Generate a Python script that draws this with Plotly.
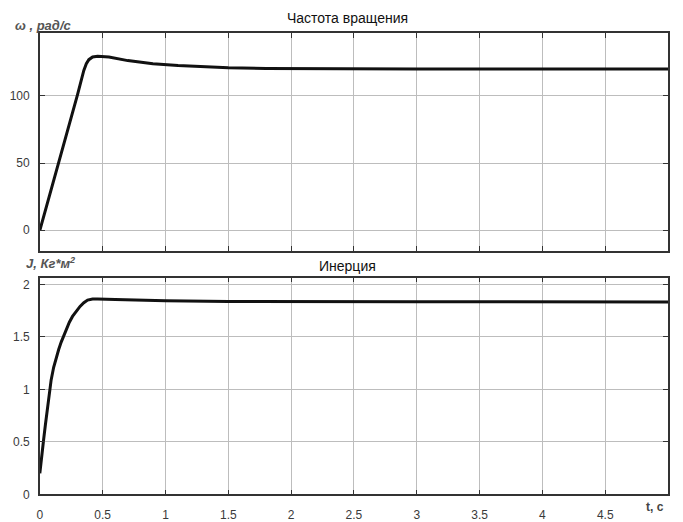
import plotly.graph_objects as go

W, H = 683, 522

# Angular velocity (rad/s) vs time
t_omega = [0, 0.15, 0.30, 0.35, 0.37, 0.39, 0.42, 0.46, 0.55, 0.70, 0.90, 1.10, 1.30, 1.50, 1.80, 2.20, 2.60, 3.00, 4.00, 5.00]
omega = [0, 50, 101, 119, 124, 127, 129, 129.6, 129.0, 126.3, 124.0, 122.6, 121.6, 121.0, 120.5, 120.2, 120.1, 120.0, 120.0, 120.0]

# Inertia (kg*m^2) vs time
t_J = [0, 0.01, 0.02, 0.03, 0.045, 0.06, 0.075, 0.09, 0.11, 0.13, 0.15, 0.17, 0.19, 0.21, 0.235, 0.26, 0.29,
       0.32, 0.35, 0.38, 0.42, 0.46, 0.60, 0.80, 1.00, 1.50, 2.00, 3.00, 5.00]
J = [0.2, 0.33, 0.43, 0.52, 0.67, 0.82, 0.99, 1.09, 1.21, 1.30, 1.38, 1.45, 1.51, 1.575, 1.64, 1.695, 1.745,
     1.79, 1.825, 1.85, 1.86, 1.861, 1.856, 1.849, 1.844, 1.838, 1.835, 1.834, 1.833]

x_ticks = [0, 0.5, 1, 1.5, 2, 2.5, 3, 3.5, 4, 4.5]
x_tick_text = ["0", "0.5", "1", "1.5", "2", "2.5", "3", "3.5", "4", "4.5"]
omega_ticks = [0, 50, 100]
J_ticks = [0, 0.5, 1, 1.5, 2]
J_tick_text = ["0", "0.5", "1", "1.5", "2"]

fig = go.Figure()
fig.add_trace(go.Scatter(x=t_omega, y=omega, mode="lines",
                         line=dict(color="#111111", width=3), xaxis="x", yaxis="y",
                         showlegend=False, hoverinfo="skip"))
fig.add_trace(go.Scatter(x=t_J, y=J, mode="lines",
                         line=dict(color="#111111", width=3), xaxis="x2", yaxis="y2",
                         showlegend=False, hoverinfo="skip"))

def px_x(p):
    return p / W

def px_y(p):
    return 1 - p / H

axis_common = dict(
    showline=True, linecolor="#333333", linewidth=1.5, mirror="allticks",
    ticks="inside", ticklen=5, tickcolor="#333333", tickwidth=1.2,
    showgrid=True, gridcolor="#bdbdbd", gridwidth=1,
    zeroline=False,
    tickfont=dict(family="Liberation Sans, Arial", size=12, color="#3a3a3a"),
)

fig.update_layout(
    width=W, height=H,
    margin=dict(l=0, r=0, t=0, b=0),
    paper_bgcolor="white", plot_bgcolor="white",
    xaxis=dict(domain=[px_x(37), px_x(668)], range=[0, 5], anchor="y",
               tickvals=x_ticks, showticklabels=False, **axis_common),
    yaxis=dict(domain=[px_y(255), px_y(34)], range=[-15.5, 146.5], anchor="x",
               tickvals=omega_ticks, ticklabelstandoff=6, **axis_common),
    xaxis2=dict(domain=[px_x(37), px_x(668)], range=[0, 5], anchor="y2",
                tickvals=x_ticks, ticktext=x_tick_text, ticklabelstandoff=9, **axis_common),
    yaxis2=dict(domain=[px_y(502), px_y(282)], range=[0, 2.064], anchor="x2",
                tickvals=J_ticks, ticktext=J_tick_text, ticklabelstandoff=6, **axis_common),
)

title_font = dict(family="Liberation Sans, Arial", size=14, color="#111111")
ylab_font = dict(family="Liberation Sans, Arial", size=13, color="#555555")

annotations = [
    dict(text="Частота вращения", x=px_x(346), y=px_y(18), xanchor="center", yanchor="middle",
         font=title_font),
    dict(text="Инерция", x=px_x(346), y=px_y(270), xanchor="center", yanchor="middle",
         font=title_font),
    dict(text="<b><i>ω , рад/с</i></b>", x=px_x(10), y=px_y(26), xanchor="left", yanchor="middle",
         font=ylab_font),
    dict(text="<b><i>J, Кг*м<sup>2</sup></i></b>", x=px_x(21), y=px_y(267), xanchor="left", yanchor="middle",
         font=ylab_font),
    dict(text="<b>t, c</b>", x=px_x(655), y=px_y(515), xanchor="center", yanchor="middle",
         font=dict(family="Liberation Sans, Arial", size=12, color="#444444")),
]
for a in annotations:
    a.update(xref="paper", yref="paper", showarrow=False)
fig.update_layout(annotations=annotations)

fig.write_html("out.html", config={"displayModeBar": False})
